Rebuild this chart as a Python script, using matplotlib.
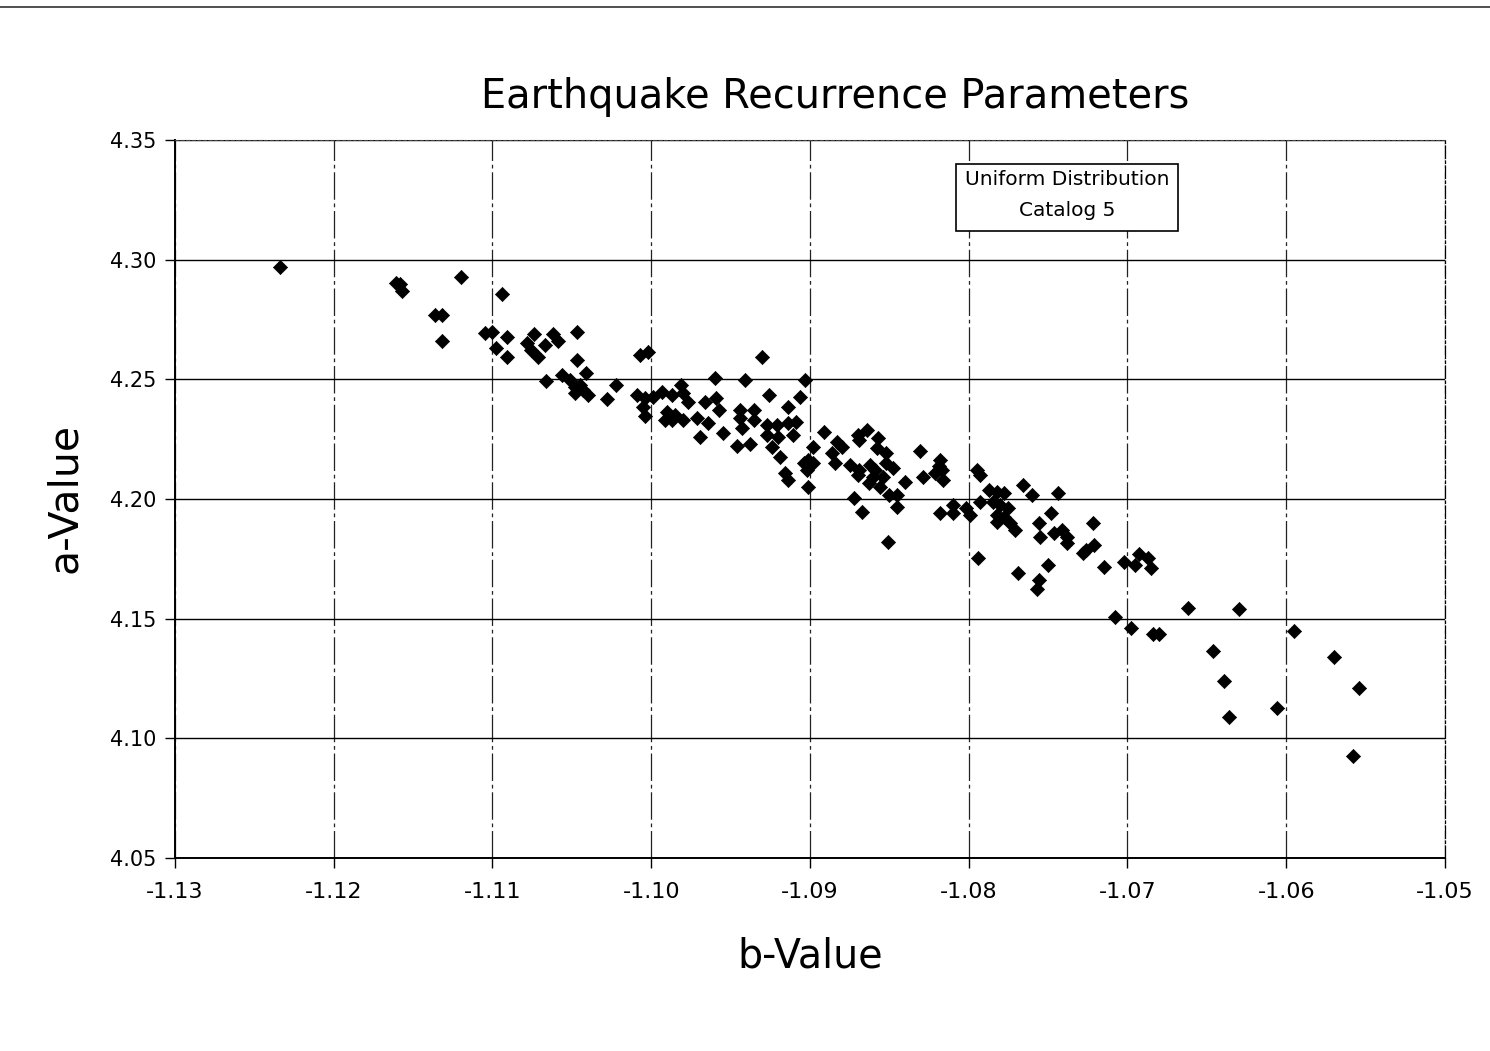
import matplotlib
matplotlib.use("Agg")
import matplotlib.pyplot as plt
from matplotlib.patches import Rectangle
from matplotlib.lines import Line2D

plt.rcParams['font.family'] = ['DejaVu Sans']

# catalog 5 recurrence parameters (b-value, a-value)
b_values = [
    -1.1234, -1.1161, -1.1158, -1.1157, -1.1136, -1.1132, -1.1132, -1.1120,
    -1.1094, -1.1105, -1.1100, -1.1091, -1.1098, -1.1091, -1.1074, -1.1078,
    -1.1076, -1.1071, -1.1067, -1.1062, -1.1059, -1.1047, -1.1047, -1.1041,
    -1.1066, -1.1056, -1.1051, -1.1048, -1.1045, -1.1048, -1.1040, -1.1043,
    -1.1028, -1.1022, -1.1007, -1.1002,
    -1.1009, -1.1004, -1.0999, -1.1005, -1.1004, -1.0993, -1.0987, -1.0981,
    -1.0980, -1.0977, -1.0990, -1.0991, -1.0987, -1.0985, -1.0980, -1.0971,
    -1.0964, -1.0969, -1.0966, -1.0959, -1.0957, -1.0955, -1.0944, -1.0944,
    -1.0943, -1.0935, -1.0935, -1.0946, -1.0938, -1.0930, -1.0960, -1.0941,
    -1.0903, -1.0926, -1.0914, -1.0906, -1.0927, -1.0921, -1.0914, -1.0909,
    -1.0927, -1.0920, -1.0911, -1.0924, -1.0919, -1.0916, -1.0914, -1.0901,
    -1.0904, -1.0898, -1.0902, -1.0898, -1.0901,
    -1.0891, -1.0883, -1.0880, -1.0886, -1.0884, -1.0870, -1.0864, -1.0869,
    -1.0857, -1.0858, -1.0852, -1.0875, -1.0869, -1.0870, -1.0862, -1.0859,
    -1.0860, -1.0852, -1.0848, -1.0854, -1.0863, -1.0856, -1.0840, -1.0831,
    -1.0818, -1.0817, -1.0829, -1.0816, -1.0850, -1.0845, -1.0845, -1.0872,
    -1.0867, -1.0851, -1.0818, -1.0810, -1.0810, -1.0802, -1.0819, -1.0821,
    -1.0799, -1.0795, -1.0793, -1.0793, -1.0787, -1.0782, -1.0778, -1.0785,
    -1.0780, -1.0775, -1.0782, -1.0778, -1.0782, -1.0774, -1.0771, -1.0794,
    -1.0766, -1.0760, -1.0744, -1.0748, -1.0756, -1.0755, -1.0746, -1.0741,
    -1.0738, -1.0738, -1.0728, -1.0726, -1.0722, -1.0721, -1.0769, -1.0750,
    -1.0756, -1.0757,
    -1.0715, -1.0702, -1.0693, -1.0695, -1.0687, -1.0685, -1.0708, -1.0698,
    -1.0684, -1.0680, -1.0662, -1.0630, -1.0646, -1.0639, -1.0636, -1.0606,
    -1.0595, -1.0570, -1.0554, -1.0558,
]
a_values = [
    4.2969, 4.2903, 4.2898, 4.2869, 4.2769, 4.2769, 4.2660, 4.2928,
    4.2857, 4.2694, 4.2698, 4.2677, 4.2631, 4.2593, 4.2689, 4.2652,
    4.2623, 4.2593, 4.2643, 4.2689, 4.2660, 4.2698, 4.2581, 4.2526,
    4.2493, 4.2518, 4.2497, 4.2468, 4.2476, 4.2443, 4.2435, 4.2455,
    4.2418, 4.2476, 4.2602, 4.2614,
    4.2435, 4.2422, 4.2426, 4.2384, 4.2347, 4.2447, 4.2435, 4.2476,
    4.2443, 4.2405, 4.2364, 4.2330, 4.2330, 4.2351, 4.2330, 4.2338,
    4.2318, 4.2259, 4.2405, 4.2422, 4.2372, 4.2276, 4.2372, 4.2338,
    4.2297, 4.2372, 4.2330, 4.2221, 4.2230, 4.2593, 4.2506, 4.2497,
    4.2497, 4.2435, 4.2384, 4.2426, 4.2309, 4.2309, 4.2318, 4.2322,
    4.2267, 4.2259, 4.2267, 4.2217, 4.2175, 4.2109, 4.2079, 4.2163,
    4.2150, 4.2150, 4.2121, 4.2217, 4.2050,
    4.2280, 4.2238, 4.2217, 4.2192, 4.2150, 4.2267, 4.2288, 4.2247,
    4.2255, 4.2213, 4.2192, 4.2142, 4.2121, 4.2100, 4.2142, 4.2121,
    4.2092, 4.2150, 4.2130, 4.2092, 4.2067, 4.2050, 4.2071, 4.2201,
    4.2163, 4.2121, 4.2092, 4.2079, 4.2017, 4.2017, 4.1967, 4.2004,
    4.1946, 4.1820, 4.1941, 4.1975, 4.1941, 4.1962, 4.2138, 4.2109,
    4.1933, 4.2121, 4.2100, 4.1987, 4.2038, 4.2029, 4.2025, 4.1987,
    4.1975, 4.1962, 4.1933, 4.1925, 4.1904, 4.1900, 4.1870, 4.1753,
    4.2058, 4.2017, 4.2025, 4.1941, 4.1900, 4.1841, 4.1858, 4.1870,
    4.1841, 4.1816, 4.1774, 4.1787, 4.1900, 4.1808, 4.1691, 4.1724,
    4.1662, 4.1624,
    4.1716, 4.1737, 4.1770, 4.1724, 4.1753, 4.1712, 4.1507, 4.1461,
    4.1436, 4.1436, 4.1545, 4.1540, 4.1365, 4.1240, 4.1089, 4.1127,
    4.1448, 4.1340, 4.1210, 4.0926,
]

x_ticks = [-1.13, -1.12, -1.11, -1.10, -1.09, -1.08, -1.07, -1.06, -1.05]
y_ticks = [4.05, 4.10, 4.15, 4.20, 4.25, 4.30, 4.35]

fig = plt.figure(figsize=(14.9, 10.51), dpi=100)
ax = fig.add_axes([0.1174, 0.1836, 0.8524, 0.6832])

ax.scatter(b_values, a_values, marker='D', s=52, color='black',
           edgecolors='black', linewidths=0.5, zorder=3)

ax.set_xlim(-1.13, -1.05)
ax.set_ylim(4.05, 4.35)
ax.set_xticks(x_ticks)
ax.set_yticks(y_ticks)
ax.set_xticklabels([f"{t:.2f}" for t in x_ticks])
ax.set_yticklabels([f"{t:.2f}" for t in y_ticks])
ax.tick_params(axis='both', length=7, width=1.0, direction='out')
ax.tick_params(axis='x', labelsize=16, pad=10)
ax.tick_params(axis='y', labelsize=15, pad=6)

ax.grid(True, axis='y', color='black', linewidth=1.0, zorder=1)
ax.grid(True, axis='x', color='#222222', linewidth=0.9,
        linestyle=(0, (22, 3, 3, 3)), zorder=1)

for side in ['left', 'bottom']:
    ax.spines[side].set_linewidth(1.4)
ax.spines['top'].set_linewidth(0.8)
ax.spines['top'].set_linestyle((0, (3, 2)))
ax.spines['top'].set_color('#444444')
ax.spines['right'].set_linewidth(0.9)
ax.spines['right'].set_linestyle((0, (10, 2, 2, 2)))

fig.text(835 / 1490, 1 - 97 / 1051, "Earthquake Recurrence Parameters",
         fontsize=28.7, ha='center', va='center')
fig.text(810 / 1490, 1 - 957 / 1051, "b-Value", fontsize=28.5,
         ha='center', va='center')
fig.text(65 / 1490, 1 - 498 / 1051, "a-Value", fontsize=29.5,
         ha='center', va='center', rotation=90)

# legend-style caption box
ax.add_patch(Rectangle((0.615, 0.8733), 0.1748, 0.0933, transform=ax.transAxes,
                       facecolor='white', edgecolor='black', linewidth=1.2, zorder=4))
ax.text(0.7022, 0.9443, "Uniform Distribution", transform=ax.transAxes,
        ha='center', va='center', fontsize=14.5, zorder=5)
ax.text(0.7022, 0.9025, "Catalog 5", transform=ax.transAxes,
        ha='center', va='center', fontsize=14.5, zorder=5)

# page rule along the top edge
fig.add_artist(Line2D([0, 1], [0.9935, 0.9935], transform=fig.transFigure,
                      color='#333333', linewidth=1.2))

fig.savefig("out.png", dpi=100, facecolor='white')
